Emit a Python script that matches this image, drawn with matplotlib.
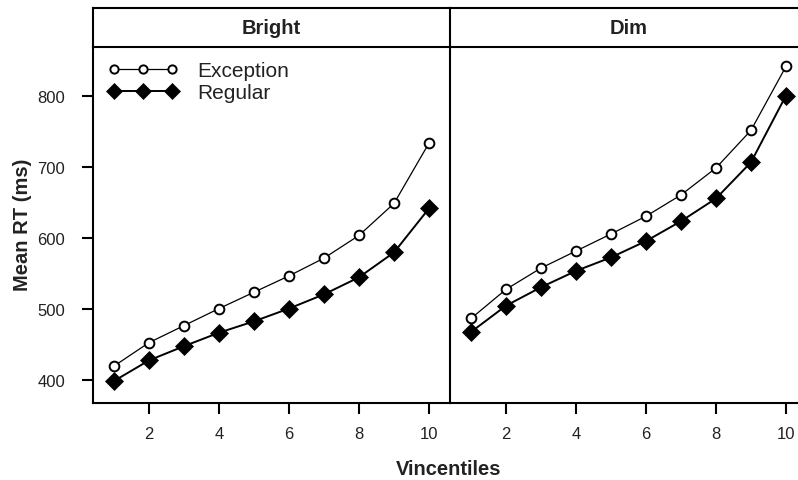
import numpy as np
import matplotlib
matplotlib.use('Agg')
import matplotlib.pyplot as plt

plt.rcParams['font.family'] = ['Liberation Sans', 'DejaVu Sans']

# data
vincentiles = [1, 2, 3, 4, 5, 6, 7, 8, 9, 10]
panels = ['Bright', 'Dim']
bright_exception = [420, 453, 477, 501, 524, 547, 572, 604, 649, 734]
bright_regular = [399, 428, 448, 467, 483, 501, 521, 545, 580, 642]
dim_exception = [487, 528, 558, 582, 606, 631, 661, 699, 752, 842]
dim_regular = [468, 505, 531, 554, 573, 596, 624, 656, 707, 801]
series = {'Bright': (bright_exception, bright_regular),
          'Dim': (dim_exception, dim_regular)}

W, H = 798, 481
fig = plt.figure(figsize=(W / 100, H / 100), dpi=100)

def fx(px):
    return px / W

def fy(py):
    return 1 - py / H

lw = 1.5
top, hdr, bot = 9, 47.5, 404
lefts = [93, 450]
pw = 357

for i, name in enumerate(panels):
    x0 = lefts[i]
    ax = fig.add_axes([fx(x0), fy(bot), pw / W, (bot - hdr) / H])
    exc, reg = series[name]
    ax.plot(vincentiles, exc, '-o', color='black', lw=0.9, ms=7,
            mfc='white', mec='black', mew=1.4, label='Exception')
    ax.plot(vincentiles, reg, '-D', color='black', lw=1.4, ms=9,
            mfc='black', mec='black', mew=0.5, label='Regular')
    ax.set_xlim(0.4, 10.6)
    ax.set_ylim(368, 870)
    ax.set_xticks([2, 4, 6, 8, 10])
    ax.set_yticks([400, 500, 600, 700, 800])
    ax.tick_params(axis='x', direction='out', length=8, width=lw, pad=8.5,
                   labelsize=12, colors='black', labelcolor='#222222')
    ax.tick_params(axis='y', direction='out', length=8, width=lw, pad=12,
                   labelsize=12, colors='black', labelcolor='#222222')
    for s in ax.spines.values():
        s.set_linewidth(lw)
    ax.spines['top'].set_visible(False)
    if i == 0:
        ax.spines['right'].set_visible(False)
        ax.legend(loc='upper left', bbox_to_anchor=(0.0, 1.0), frameon=False,
                  numpoints=3, fontsize=15, handlelength=3.4, handletextpad=0.9,
                  labelspacing=0.15, markerscale=0.85, borderaxespad=0.3,
                  labelcolor='#222222')
    else:
        ax.tick_params(axis='y', left=False, labelleft=False)

    # strip header
    sax = fig.add_axes([fx(x0), fy(hdr), pw / W, (hdr - top) / H])
    sax.set_xticks([])
    sax.set_yticks([])
    for s in sax.spines.values():
        s.set_linewidth(lw)
    if i == 0:
        sax.spines['right'].set_visible(False)
    sax.text(0.5, 0.5, name, transform=sax.transAxes, ha='center', va='center',
             fontsize=14.5, fontweight='bold', color='#222222')

fig.text(fx(23), fy(225), 'Mean RT (ms)', rotation=90, ha='center', va='center',
         fontsize=14.5, fontweight='bold', color='#222222')
fig.text(fx(449), fy(470), 'Vincentiles', ha='center', va='center',
         fontsize=14.5, fontweight='bold', color='#222222')

fig.savefig('out.png', dpi=100)
